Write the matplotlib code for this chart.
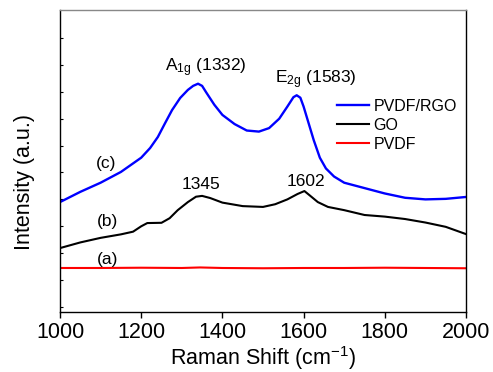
import matplotlib
matplotlib.use("Agg")
import matplotlib.pyplot as plt

plt.rcParams['font.family'] = ['Liberation Sans', 'DejaVu Sans']
plt.rcParams['mathtext.fontset'] = 'custom'
plt.rcParams['mathtext.rm'] = 'Liberation Sans'
plt.rcParams['mathtext.it'] = 'Liberation Sans:italic'
plt.rcParams['mathtext.bf'] = 'Liberation Sans:bold'

# ---- data ----
rgo_x = [1000, 1050, 1100, 1150, 1200, 1222, 1241, 1259, 1276, 1296, 1315, 1328,
         1340, 1350, 1360, 1380, 1400, 1430, 1460, 1490, 1515, 1540, 1560, 1575,
         1583, 1592, 1600, 1612, 1625, 1640, 1655, 1675, 1700, 1750, 1800, 1850,
         1900, 1950, 2000]
rgo_y = [3.90, 4.28, 4.62, 5.02, 5.55, 5.91, 6.32, 6.84, 7.32, 7.77, 8.07, 8.22,
         8.30, 8.22, 7.98, 7.52, 7.14, 6.80, 6.56, 6.52, 6.65, 7.00, 7.45, 7.80,
         7.87, 7.78, 7.45, 6.85, 6.20, 5.55, 5.15, 4.85, 4.62, 4.42, 4.22, 4.06,
         4.00, 4.02, 4.09]

go_x = [1000, 1050, 1100, 1150, 1180, 1200, 1215, 1250, 1270, 1290, 1315, 1335,
        1350, 1370, 1400, 1450, 1500, 1530, 1560, 1585, 1602, 1615, 1635, 1660,
        1700, 1750, 1800, 1850, 1900, 1950, 2000]
go_y = [2.19, 2.40, 2.57, 2.70, 2.80, 3.00, 3.12, 3.13, 3.30, 3.60, 3.90, 4.10,
        4.13, 4.05, 3.88, 3.75, 3.72, 3.82, 4.00, 4.20, 4.31, 4.15, 3.90, 3.72,
        3.60, 3.42, 3.36, 3.27, 3.14, 2.98, 2.71]

pvdf_x = [1000, 1100, 1200, 1300, 1345, 1400, 1500, 1600, 1700, 1800, 1900, 2000]
pvdf_y = [1.45, 1.45, 1.46, 1.45, 1.47, 1.45, 1.44, 1.45, 1.45, 1.46, 1.45, 1.44]

series_labels = ['PVDF/RGO', 'GO', 'PVDF']
xticks = [1000, 1200, 1400, 1600, 1800, 2000]

fig = plt.figure(figsize=(4.93, 3.72), dpi=100)
ax = fig.add_axes([60/493, 60/372, 406/493, 302/372])

ax.plot(rgo_x, rgo_y, color='#0000ff', lw=1.7, label=series_labels[0])
ax.plot(go_x, go_y, color='black', lw=1.5, label=series_labels[1])
ax.plot(pvdf_x, pvdf_y, color='#ff0000', lw=1.5, label=series_labels[2])

ax.set_xlim(1000, 2000)
ax.set_ylim(-0.186, 11.04)
ax.set_xticks(xticks)
ax.set_xticklabels([str(t) for t in xticks])
ax.set_yticks(range(0, 11))
ax.set_yticklabels([])
ax.tick_params(axis='x', direction='out', length=4.5, width=1, labelsize=15.5, pad=3)
ax.tick_params(axis='y', direction='in', length=2.5, width=0.8)
for s in ['left', 'bottom', 'right']:
    ax.spines[s].set_linewidth(1.0)
ax.spines['top'].set_linewidth(1.0)
ax.spines['top'].set_color('#888888')

ax.set_xlabel('Raman Shift (cm$^{-1}$)', fontsize=15.5, labelpad=0.5)
ax.set_ylabel('Intensity (a.u.)', fontsize=15.5)
ax.yaxis.set_label_coords(-0.062, 0.43)

fs = 12.5
ax.text(1259, 8.75, r'A$_\mathregular{1g}$ (1332)', fontsize=fs, ha='left', va='baseline')
ax.text(1530, 8.33, r'E$_\mathregular{2g}$ (1583)', fontsize=fs, ha='left', va='baseline')
ax.text(1347, 4.54, '1345', fontsize=fs, ha='center', va='center')
ax.text(1606, 4.68, '1602', fontsize=fs, ha='center', va='center')
ax.text(1113, 5.32, '(c)', fontsize=fs, ha='center', va='center')
ax.text(1118, 3.16, '(b)', fontsize=fs, ha='center', va='center')
ax.text(1118, 1.75, '(a)', fontsize=fs, ha='center', va='center')

ax.legend(loc='upper left', bbox_to_anchor=(0.682, 0.705), frameon=False,
          fontsize=11.5, borderpad=0, borderaxespad=0, handlelength=2.0,
          handletextpad=0.3, labelspacing=0.25)

fig.savefig('out.png', dpi=100)
